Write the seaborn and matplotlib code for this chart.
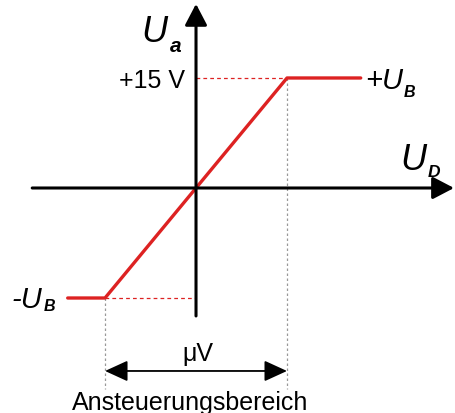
import numpy as np
import pandas as pd
import seaborn as sns
import matplotlib.pyplot as plt

# transfer characteristic of an op-amp (normalised U_D, U_a in volts)
ud = [-1.41, -1.0, 1.0, 1.81]
ua = [-15.0, -15.0, 15.0, 15.0]
u_sat = 15.0
ud_knee = 1.0

sns.set_style('white')
plt.rcParams['font.family'] = ['Liberation Sans', 'DejaVu Sans']
plt.rcParams['text.color'] = 'black'

fig = plt.figure(figsize=(4.55, 4.14), dpi=100)
ax = fig.add_axes([0, 0, 1, 1])
ax.set_xlim(-2.154, 2.846)
ax.set_ylim(-30.68, 25.77)
ax.axis('off')

df = pd.DataFrame({'U_D': ud, 'U_a': ua})

# helper lines to the knees
ax.plot([0, ud_knee], [u_sat, u_sat], color='#dd2222', lw=0.9, ls=(0, (3, 2.5)))
ax.plot([-ud_knee, 0], [-u_sat, -u_sat], color='#dd2222', lw=0.9, ls=(0, (3, 2.5)))
ax.plot([ud_knee, ud_knee], [u_sat, -27.4], color='#999999', lw=0.9, ls=(0, (2, 2)))
ax.plot([-ud_knee, -ud_knee], [-u_sat, -27.4], color='#999999', lw=0.9, ls=(0, (2, 2)))

# axes with arrows
arr = dict(arrowstyle='-|>,head_length=0.65,head_width=0.34', mutation_scale=20,
           lw=2.2, color='black', shrinkA=0, shrinkB=0)
ax.annotate('', xy=(2.835, 0), xytext=(-1.80, 0), arrowprops=arr)
ax.annotate('', xy=(0, 25.1), xytext=(0, -17.45), arrowprops=arr)

sns.lineplot(data=df, x='U_D', y='U_a', color='#dd2222', lw=2.4, ax=ax,
             sort=False, legend=False)

# range arrow
arr2 = dict(arrowstyle='<|-|>,head_length=0.7,head_width=0.32', mutation_scale=20,
            lw=1.3, color='black', shrinkA=0, shrinkB=0)
ax.annotate('', xy=(ud_knee, -24.95), xytext=(-ud_knee, -24.95), arrowprops=arr2)

ax.text(0.02, -23.5, 'μV', ha='center', va='baseline', fontsize=18)
ax.text(-0.07, -30.1, 'Ansteuerungsbereich', ha='center', va='baseline', fontsize=18)
ax.text(-0.12, 13.8, '+15 V', ha='right', va='baseline', fontsize=18)

# axis / level labels: main letter + bold italic subscript
def label(x, y, main, xs, ys, sub, size, subsize):
    ax.text(x, y, main, ha='left', va='baseline', fontsize=size, style='italic')
    ax.text(xs, ys, sub, ha='left', va='baseline', fontsize=subsize,
            style='italic', weight='bold')

label(-0.60, 20.05, 'U', -0.29, 18.7, 'a', 26, 15)
label(2.24, 2.6, 'U', 2.55, 1.64, 'D', 26, 12.5)
label(1.86, 13.6, '+U', 2.28, 12.6, 'B', 21, 11.5)
label(-2.03, -16.2, '-U', -1.67, -16.6, 'B', 21, 11.5)

fig.savefig('out.png', dpi=100)
